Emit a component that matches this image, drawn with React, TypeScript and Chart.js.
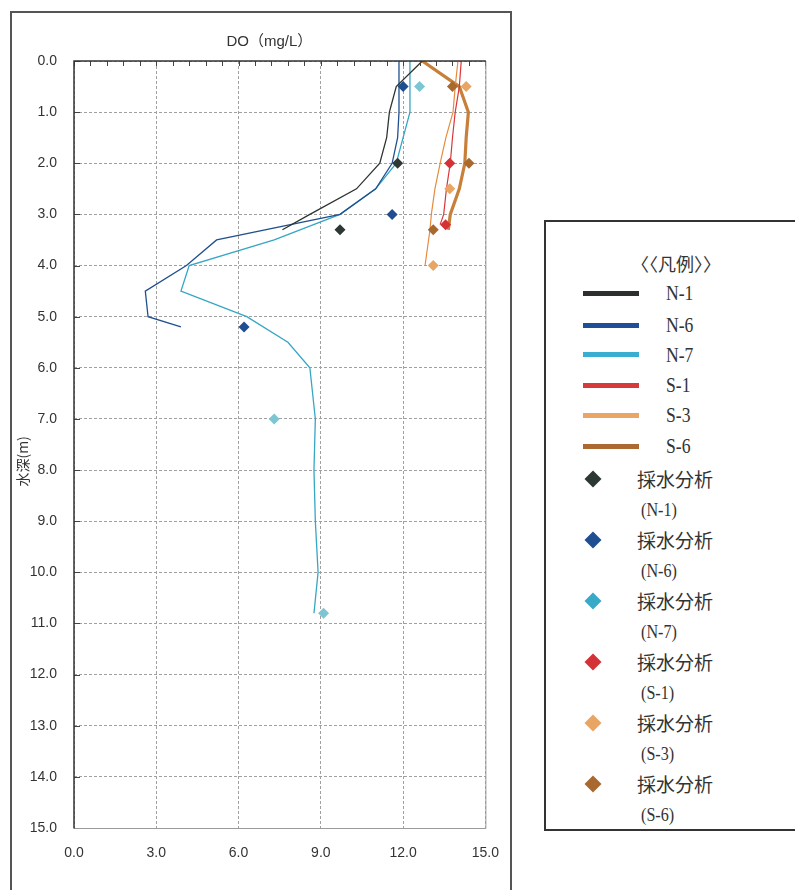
import React, { useEffect, useRef } from "react";
import { Chart, registerables } from "chart.js";

Chart.register(...registerables);

// ---- Axis / text ----
const CHART_TITLE = "DO（mg/L）";
const Y_TITLE = "水深(m)";
const X_TICKS = [0, 3, 6, 9, 12, 15];
const Y_TICKS = [0, 1, 2, 3, 4, 5, 6, 7, 8, 9, 10, 11, 12, 13, 14, 15];
const LEGEND_TITLE = "〈〈凡例〉〉";

// ---- Profile series (depth m, DO mg/L) ----
const N1_DEPTH = [0, 0.5, 1.0, 1.5, 2.0, 2.5, 3.0, 3.3];
const N1_DO = [12.7, 11.75, 11.5, 11.4, 11.15, 10.3, 8.6, 7.6];

const N6_DEPTH = [0, 0.5, 1.0, 1.5, 2.0, 2.5, 3.0, 3.5, 4.0, 4.5, 5.0, 5.2];
const N6_DO = [11.85, 11.85, 11.85, 11.8, 11.6, 11.0, 9.7, 5.2, 4.1, 2.6, 2.7, 3.9];

const N7_DEPTH = [0, 0.5, 1.0, 1.5, 2.0, 2.5, 3.0, 3.5, 4.0, 4.5, 5.0, 5.5, 6.0, 7.0, 8.0, 9.0, 10.0, 10.8];
const N7_DO = [12.25, 12.25, 12.25, 12.0, 11.75, 11.0, 9.7, 7.3, 4.2, 3.9, 6.3, 7.8, 8.6, 8.8, 8.75, 8.8, 8.9, 8.75];

const S1_DEPTH = [0, 0.5, 1.0, 1.5, 2.0, 2.5, 3.0, 3.2];
const S1_DO = [14.12, 14.05, 13.9, 13.8, 13.72, 13.58, 13.48, 13.35];

const S3_DEPTH = [0, 0.5, 1.0, 1.5, 2.0, 2.5, 3.0, 3.3, 4.0];
const S3_DO = [14.0, 13.9, 13.82, 13.56, 13.35, 13.16, 13.03, 12.98, 12.8];

const S6_DEPTH = [0, 0.5, 1.0, 1.5, 2.0, 2.5, 3.0, 3.3];
const S6_DO = [12.7, 14.05, 14.38, 14.3, 14.25, 14.05, 13.72, 13.65];

// ---- Water sampling analysis points ----
const N1_SAMPLE_DEPTH = [2.0, 3.3];
const N1_SAMPLE_DO = [11.8, 9.7];
const N6_SAMPLE_DEPTH = [0.5, 3.0, 5.2];
const N6_SAMPLE_DO = [12.0, 11.6, 6.2];
const N7_SAMPLE_DEPTH = [0.5, 7.0, 10.8];
const N7_SAMPLE_DO = [12.6, 7.3, 9.1];
const S1_SAMPLE_DEPTH = [2.0, 3.2];
const S1_SAMPLE_DO = [13.7, 13.55];
const S3_SAMPLE_DEPTH = [0.5, 2.5, 4.0];
const S3_SAMPLE_DO = [14.3, 13.7, 13.1];
const S6_SAMPLE_DEPTH = [0.5, 2.0, 3.3];
const S6_SAMPLE_DO = [13.8, 14.4, 13.1];

const LINE_NAMES = ["N-1", "N-6", "N-7", "S-1", "S-3", "S-6"];
const SAMPLE_NAMES = ["(N-1)", "(N-6)", "(N-7)", "(S-1)", "(S-3)", "(S-6)"];
const SAMPLE_LABEL = "採水分析";

const LINE_COLORS = ["#2e3430", "#22508f", "#36a6c4", "#d9363a", "#e68b3e", "#c77f3a"];
const LEGEND_LINE_COLORS = ["#2b302d", "#1f4f99", "#3aaed0", "#d63a3a", "#e9a565", "#ac6a32"];
const MARKER_COLORS = ["#2d3833", "#1f4e91", "#7cc6d4", "#d33236", "#e8a563", "#a8692f"];
const LEGEND_MARKER_COLORS = ["#2d3833", "#1f4e91", "#38a9c6", "#d33236", "#e8a563", "#a8692f"];
const LINE_WIDTHS = [1.3, 1.3, 1.3, 1.2, 1.2, 3.2];

const zip = (xs: number[], ys: number[]) => xs.map((v, i) => ({ x: v, y: ys[i] }));

const LINE_DATA = [
  zip(N1_DO, N1_DEPTH),
  zip(N6_DO, N6_DEPTH),
  zip(N7_DO, N7_DEPTH),
  zip(S1_DO, S1_DEPTH),
  zip(S3_DO, S3_DEPTH),
  zip(S6_DO, S6_DEPTH),
];
const SAMPLE_DATA = [
  zip(N1_SAMPLE_DO, N1_SAMPLE_DEPTH),
  zip(N6_SAMPLE_DO, N6_SAMPLE_DEPTH),
  zip(N7_SAMPLE_DO, N7_SAMPLE_DEPTH),
  zip(S1_SAMPLE_DO, S1_SAMPLE_DEPTH),
  zip(S3_SAMPLE_DO, S3_SAMPLE_DEPTH),
  zip(S6_SAMPLE_DO, S6_SAMPLE_DEPTH),
];

const TEXT_COLOR = "#333";
const TICK_FONT = { family: '"Liberation Sans", Arial, sans-serif', size: 14 };

const decorPlugin = {
  id: "decor",
  afterDraw(chart: any) {
    const { ctx, chartArea: a, scales } = chart;
    const x = scales.x;
    const y = scales.y;
    ctx.save();
    ctx.strokeStyle = "#444";
    ctx.lineWidth = 1;
    ctx.beginPath();
    for (let i = 0; i <= 25; i++) {
      const px = Math.round(x.getPixelForValue(i * 0.6)) + 0.5;
      ctx.moveTo(px, a.top);
      ctx.lineTo(px, a.top + 5);
    }
    Y_TICKS.forEach((d) => {
      const py = Math.round(y.getPixelForValue(d)) + 0.5;
      ctx.moveTo(a.left, py);
      ctx.lineTo(a.left + 6, py);
    });
    ctx.stroke();
    ctx.strokeStyle = "#9a9a9a";
    ctx.lineWidth = 1;
    ctx.beginPath();
    ctx.moveTo(a.right + 0.5, a.top);
    ctx.lineTo(a.right + 0.5, a.bottom + 0.5);
    ctx.lineTo(a.left, a.bottom + 0.5);
    ctx.stroke();
    ctx.strokeStyle = "#333";
    ctx.lineWidth = 1.5;
    ctx.beginPath();
    ctx.moveTo(a.left, a.bottom + 0.5);
    ctx.lineTo(a.left, a.top);
    ctx.lineTo(a.right + 0.5, a.top);
    ctx.stroke();
    ctx.fillStyle = TEXT_COLOR;
    ctx.font = '15px "Liberation Sans", "Noto Sans CJK JP", sans-serif';
    ctx.textAlign = "center";
    ctx.textBaseline = "middle";
    ctx.fillText(CHART_TITLE, a.left + (a.right - a.left) * 0.475, a.top - 19);
    ctx.font = '14px "Noto Sans CJK JP", "Liberation Sans", sans-serif';
    ctx.translate(11, a.top + (a.bottom - a.top) * 0.522);
    ctx.rotate(-Math.PI / 2);
    ctx.fillText(Y_TITLE, 0, 0);
    ctx.restore();
  },
};

function DiamondIcon({ color }: { color: string }) {
  return (
    <div
      style={{
        width: 12,
        height: 12,
        background: color,
        transform: "rotate(45deg)",
      }}
    />
  );
}

export default function App() {
  const canvasRef = useRef<HTMLCanvasElement | null>(null);

  useEffect(() => {
    if (!canvasRef.current) return;
    const lineSets = LINE_DATA.map((data, i) => ({
      type: "scatter" as const,
      label: LINE_NAMES[i],
      data,
      showLine: true,
      borderColor: LINE_COLORS[i],
      backgroundColor: LINE_COLORS[i],
      borderWidth: LINE_WIDTHS[i],
      pointRadius: 0,
      tension: 0,
      order: 2,
    }));
    const sampleSets = SAMPLE_DATA.map((data, i) => ({
      type: "scatter" as const,
      label: SAMPLE_LABEL + SAMPLE_NAMES[i],
      data,
      showLine: false,
      pointStyle: "rectRot" as const,
      pointRadius: 5.5,
      backgroundColor: MARKER_COLORS[i],
      borderColor: MARKER_COLORS[i],
      borderWidth: 0,
      order: 1,
    }));

    const chart = new Chart(canvasRef.current, {
      type: "scatter",
      data: { datasets: [...lineSets, ...sampleSets] as any },
      options: {
        responsive: false,
        animation: false,
        layout: { padding: { left: 0, right: 0, top: 48, bottom: 22 } },
        plugins: {
          legend: { display: false },
          title: { display: false },
          tooltip: { enabled: false },
        },
        scales: {
          x: {
            type: "linear",
            position: "bottom",
            min: 0,
            max: 15,
            afterBuildTicks: (s: any) => {
              s.ticks = X_TICKS.map((v) => ({ value: v }));
            },
            afterFit: (s: any) => {
              s.height = 40;
            },
            ticks: {
              padding: 17,
              color: TEXT_COLOR,
              font: TICK_FONT,
              callback: (v: any) => Number(v).toFixed(1),
              maxRotation: 0,
            },
            grid: { color: "#a0a0a0", lineWidth: 1, drawTicks: false },
            border: { display: false, dash: [3, 2] },
          },
          y: {
            type: "linear",
            position: "left",
            reverse: true,
            min: 0,
            max: 15,
            afterBuildTicks: (s: any) => {
              s.ticks = Y_TICKS.map((v) => ({ value: v }));
            },
            afterFit: (s: any) => {
              s.width = 62;
            },
            ticks: {
              padding: 17,
              color: TEXT_COLOR,
              font: TICK_FONT,
              callback: (v: any) => Number(v).toFixed(1),
            },
            grid: { color: "#a0a0a0", lineWidth: 1, drawTicks: false },
            border: { display: false, dash: [3, 2] },
          },
        },
      },
      plugins: [decorPlugin],
    });
    return () => chart.destroy();
  }, []);

  const serif = '"Liberation Serif", "DejaVu Serif", serif';
  const cjk = '"Noto Sans CJK JP", "Noto Sans CJK SC", sans-serif';
  const lineRowY = [71, 103, 132.5, 163, 193, 224];
  const markRowY = [257, 318, 379, 440, 501, 562];

  return (
    <div
      style={{
        position: "absolute",
        left: 0,
        top: 0,
        width: 795,
        height: 890,
        overflow: "hidden",
        background: "#ffffff",
      }}
    >
      <div
        style={{
          position: "absolute",
          left: 10,
          top: 11,
          width: 498,
          height: 890,
          border: "2px solid #555",
          overflow: "hidden",
        }}
      >
        <canvas ref={canvasRef} width={504} height={877} style={{ display: "block" }} />
      </div>

      <div
        style={{
          position: "absolute",
          left: 544,
          top: 220,
          width: 270,
          height: 611,
          border: "2px solid #333",
          boxSizing: "border-box",
          color: "#333",
        }}
      >
        <div
          style={{
            position: "absolute",
            left: 0,
            width: 260,
            top: 41,
            transform: "translateY(-50%)",
            textAlign: "center",
            fontFamily: cjk,
            fontSize: 18,
            lineHeight: "20px",
          }}
        >
          {LEGEND_TITLE}
        </div>
        {LINE_NAMES.map((name, i) => (
          <React.Fragment key={name}>
            <div
              style={{
                position: "absolute",
                left: 37,
                top: lineRowY[i] - 2.5,
                width: 56,
                height: 5,
                background: LEGEND_LINE_COLORS[i],
              }}
            />
            <div
              style={{
                position: "absolute",
                left: 120,
                top: lineRowY[i],
                transform: "translateY(-50%) scaleX(0.8)",
                transformOrigin: "left center",
                fontFamily: serif,
                fontSize: 22,
                lineHeight: "24px",
                whiteSpace: "nowrap",
              }}
            >
              {name}
            </div>
          </React.Fragment>
        ))}
        {SAMPLE_NAMES.map((name, i) => (
          <React.Fragment key={name}>
            <div style={{ position: "absolute", left: 41, top: markRowY[i] - 6 }}>
              <DiamondIcon color={LEGEND_MARKER_COLORS[i]} />
            </div>
            <div
              style={{
                position: "absolute",
                left: 91,
                top: markRowY[i],
                transform: "translateY(-50%)",
                fontFamily: cjk,
                fontSize: 19,
                lineHeight: "22px",
                whiteSpace: "nowrap",
              }}
            >
              {SAMPLE_LABEL}
            </div>
            <div
              style={{
                position: "absolute",
                left: 95,
                top: markRowY[i] + 31,
                transform: "translateY(-50%) scaleX(0.85)",
                transformOrigin: "left center",
                fontFamily: serif,
                fontSize: 19,
                lineHeight: "22px",
                whiteSpace: "nowrap",
              }}
            >
              {name}
            </div>
          </React.Fragment>
        ))}
      </div>
    </div>
  );
}
